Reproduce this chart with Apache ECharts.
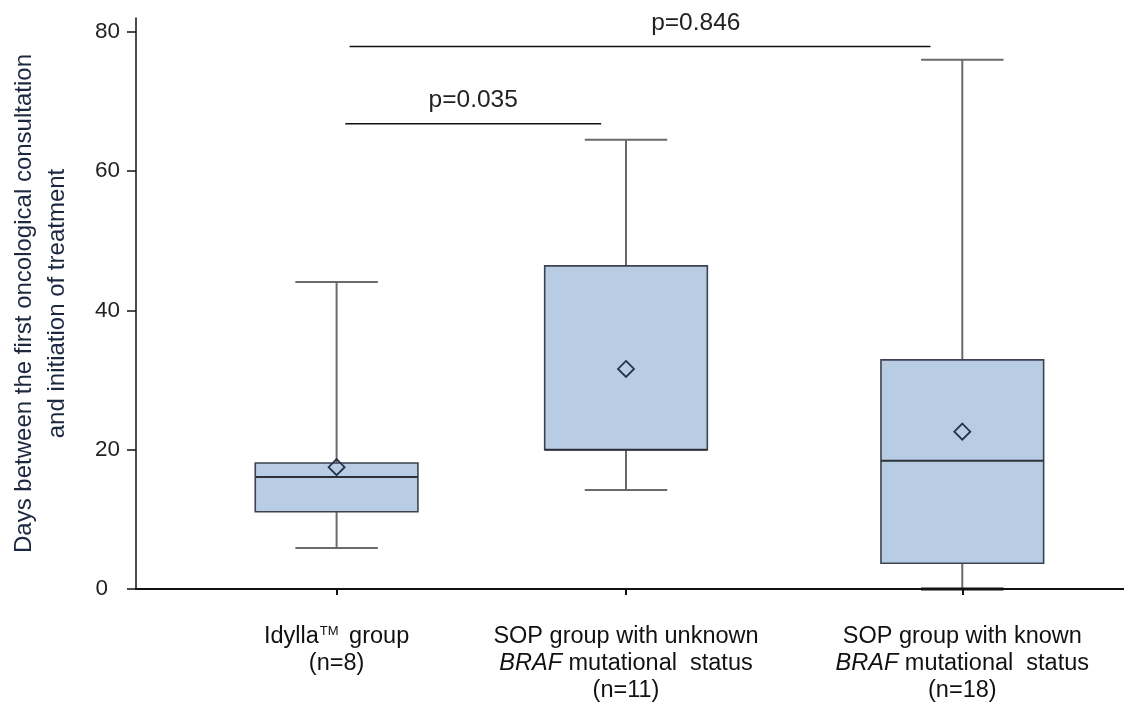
<!DOCTYPE html>
<html>
<head>
<meta charset="utf-8">
<script src="https://cdn.jsdelivr.net/npm/echarts@6/dist/echarts.min.js"></script>
<style>
html,body{margin:0;padding:0;background:#fff;}
#chart{width:1124px;height:706px;}
</style>
</head>
<body>
<div id="chart"></div>
<script>
// ---- data ----
const categoryLabels = [
  '{r|Idylla}{sup|TM}{r| group}\n{r|(n=8)}',
  '{r|SOP group with unknown}\n{i|BRAF}{r| mutational  status}\n{r|(n=11)}',
  '{r|SOP group with known}\n{i|BRAF}{r| mutational  status}\n{r|(n=18)}'
];
const xPositions = [1, 2, 3.162];
const whiskerLow = [5.9, 14.2, 0];
const q1 = [11.1, 20.0, 3.7];
const median = [16.1, 20.0, 18.4];
const q3 = [18.1, 46.4, 32.9];
const whiskerHigh = [44.1, 64.5, 76.0];
const means = [17.5, 31.6, 22.6];
const yTicks = [0, 20, 40, 60, 80];
const pLabels = ['p=0.035', 'p=0.846'];
const pFrom = [1.03, 1.045];
const pTo = [1.914, 3.052];
const pLevel = [66.8, 77.9];

// ---- chart ----
const X_MIN = 0.3069, X_MAX = 3.7207;
const BOX_W = 0.562, CAP_W = 0.285;
const P_TEXT_FRAC = [0.5, 0.596];
const FONT = '"Liberation Sans", Arial, sans-serif';

const boxData = xPositions.map((x, i) => [x, whiskerLow[i], q1[i], median[i], q3[i], whiskerHigh[i], means[i]]);
const pData = pLabels.map((t, i) => [pFrom[i], pTo[i], pLevel[i], t]);

const chart = echarts.init(document.getElementById('chart'), null, {renderer: 'canvas'});

const labelRich = {
  r: {fontFamily: FONT, fontSize: 23.5, color: '#111', lineHeight: 27},
  i: {fontFamily: FONT, fontSize: 23.5, color: '#111', fontStyle: 'italic', lineHeight: 27},
  sup: {fontFamily: FONT, fontSize: 13, color: '#111', padding: [0, 4, 10, 1], lineHeight: 27}
};

chart.setOption({
  animation: false,
  backgroundColor: '#fff',
  grid: {left: 134, right: 0, top: 18, bottom: 117, containLabel: false},
  xAxis: [{
    type: 'value', min: X_MIN, max: X_MAX,
    splitLine: {show: false},
    axisLine: {show: true, onZero: false, lineStyle: {color: '#111', width: 2}},
    axisTick: {show: false},
    axisLabel: {
      show: true, customValues: xPositions, margin: 34,
      formatter: function (v) {
        const idx = xPositions.findIndex(p => Math.abs(p - v) < 1e-6);
        return idx >= 0 ? categoryLabels[idx] : '';
      },
      rich: labelRich, lineHeight: 27, align: 'center', verticalAlign: 'top'
    }
  }, {
    type: 'value', min: X_MIN, max: X_MAX, position: 'bottom', offset: 8,
    splitLine: {show: false},
    axisLine: {show: false},
    axisTick: {show: true, customValues: xPositions, length: 6, lineStyle: {color: '#111', width: 2}},
    axisLabel: {show: false}
  }],
  yAxis: {
    type: 'value', min: 0, max: 82,
    splitLine: {show: false},
    axisLine: {show: true, lineStyle: {color: '#111', width: 1.5}},
    axisTick: {show: true, customValues: yTicks, length: 9, lineStyle: {color: '#111', width: 1.5}},
    axisLabel: {
      customValues: yTicks, margin: 16,
      formatter: function (v) { return v === 0 ? '{z|0}' : '{n|' + v + '}'; },
      rich: {
        n: {fontFamily: FONT, fontSize: 22.5, color: '#222'},
        z: {fontFamily: FONT, fontSize: 22.5, color: '#222', padding: [0, 12, 0, 0]}
      }
    },
    name: 'Days between the first oncological consultation\nand initiation of treatment',
    nameLocation: 'middle', nameGap: 62, nameRotate: 90,
    nameTextStyle: {fontFamily: FONT, fontSize: 24, color: '#1c2740', lineHeight: 33}
  },
  series: [{
    type: 'custom',
    name: 'box',
    data: boxData,
    encode: {x: 0, y: [1, 2, 3, 4, 5]},
    renderItem: function (params, api) {
      const x = api.value(0);
      const halfW = BOX_W / 2, halfC = CAP_W / 2;
      const pLow = api.coord([x, api.value(1)]);
      const pQ1 = api.coord([x, api.value(2)]);
      const pMed = api.coord([x, api.value(3)]);
      const pQ3 = api.coord([x, api.value(4)]);
      const pHigh = api.coord([x, api.value(5)]);
      const pMean = api.coord([x, api.value(6)]);
      const left = api.coord([x - halfW, 0])[0];
      const right = api.coord([x + halfW, 0])[0];
      const cl = api.coord([x - halfC, 0])[0];
      const cr = api.coord([x + halfC, 0])[0];
      const whisk = {stroke: '#6a6a6a', lineWidth: 2};
      return {
        type: 'group',
        children: [
          {type: 'line', shape: {x1: pHigh[0], y1: pHigh[1], x2: pQ3[0], y2: pQ3[1]}, style: whisk},
          {type: 'line', shape: {x1: pLow[0], y1: pLow[1], x2: pQ1[0], y2: pQ1[1]}, style: whisk},
          {type: 'line', shape: {x1: cl, y1: pHigh[1], x2: cr, y2: pHigh[1]}, style: whisk},
          {type: 'line', shape: {x1: cl, y1: pLow[1], x2: cr, y2: pLow[1]}, style: {stroke: api.value(1) === 0 ? '#111' : '#6a6a6a', lineWidth: api.value(1) === 0 ? 3 : 2}},
          {type: 'rect', shape: {x: left, y: pQ3[1], width: right - left, height: pQ1[1] - pQ3[1]},
            style: {fill: '#b8cce4', stroke: '#3b4250', lineWidth: 1.6}},
          {type: 'line', shape: {x1: left, y1: pMed[1], x2: right, y2: pMed[1]}, style: {stroke: '#2e3238', lineWidth: 2}},
          {type: 'polygon', shape: {points: [[pMean[0], pMean[1] - 8], [pMean[0] + 8, pMean[1]], [pMean[0], pMean[1] + 8], [pMean[0] - 8, pMean[1]]]},
            style: {fill: 'rgba(0,0,0,0)', stroke: '#27324a', lineWidth: 1.8}}
        ]
      };
    },
    z: 3
  }, {
    type: 'custom',
    name: 'pvalues',
    data: pData,
    encode: {x: [0, 1], y: 2},
    renderItem: function (params, api) {
      const a = api.coord([api.value(0), api.value(2)]);
      const b = api.coord([api.value(1), api.value(2)]);
      const txt = pLabels[params.dataIndex];
      const f = P_TEXT_FRAC[params.dataIndex];
      return {
        type: 'group',
        children: [
          {type: 'line', shape: {x1: a[0], y1: a[1], x2: b[0], y2: b[1]}, style: {stroke: '#111', lineWidth: 1.5}},
          {type: 'text', x: a[0] + (b[0] - a[0]) * f, y: a[1] - 11,
            style: {text: txt, fontFamily: FONT, fontSize: 24.5, fill: '#222', align: 'center', verticalAlign: 'bottom'}}
        ]
      };
    },
    z: 4
  }]
});
</script>
</body>
</html>
